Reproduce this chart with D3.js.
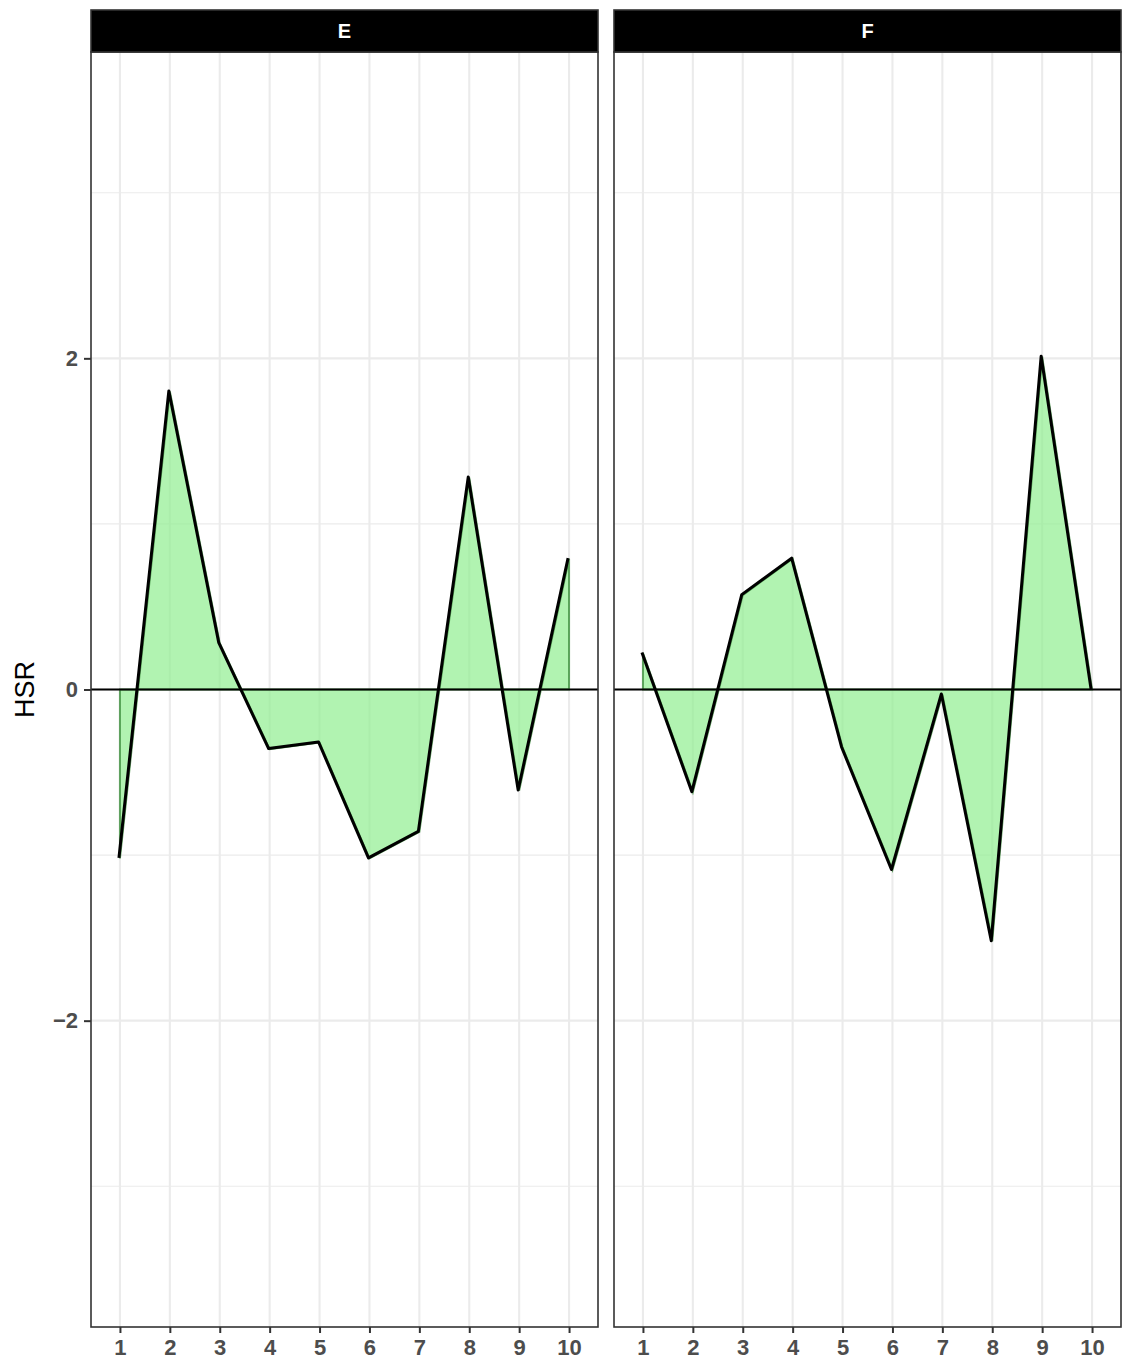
<!DOCTYPE html>
<html>
<head>
<meta charset="utf-8">
<script src="https://cdn.jsdelivr.net/npm/d3@7"></script>
<style>
  body { margin: 0; background: #fff; }
  svg { display: block; font-family: "Liberation Sans", Arial, sans-serif; }
</style>
</head>
<body>
<div id="chart"></div>
<script>
const panels = ["E", "F"];
const xValues = [1, 2, 3, 4, 5, 6, 7, 8, 9, 10];
const hsrE = [-1.02, 1.80, 0.28, -0.36, -0.32, -1.02, -0.86, 1.28, -0.61, 0.79];
const hsrF = [0.22, -0.62, 0.57, 0.79, -0.35, -1.09, -0.03, -1.52, 2.01, 0.0];
const yTicks = [-2, 0, 2];
const yMinor = [-3, -1, 1, 3];

const seriesByPanel = { E: hsrE, F: hsrF };

const width = 1124, height = 1363;
const panelTop = 52, panelBottom = 1327;
const panelLefts = [91, 614], panelW = 507;

const svg = d3.select("#chart").append("svg")
  .attr("width", width).attr("height", height);

const y = d3.scaleLinear().domain([-3.85, 3.85]).range([panelBottom, panelTop]);

// y axis title
svg.append("text")
  .attr("transform", `translate(34,${(panelTop + panelBottom) / 2}) rotate(-90)`)
  .attr("text-anchor", "middle")
  .style("font-size", "27px")
  .attr("fill", "#000")
  .text("HSR");

// add zero crossings so the fill sits between the line and 0
function withCrossings(xs, vs) {
  const out = [];
  for (let i = 0; i < xs.length; i++) {
    out.push([xs[i], vs[i]]);
    if (i < xs.length - 1 && vs[i] * vs[i + 1] < 0) {
      const t = vs[i] / (vs[i] - vs[i + 1]);
      out.push([xs[i] + t * (xs[i + 1] - xs[i]), 0]);
    }
  }
  return out;
}

panels.forEach((name, pi) => {
  const left = panelLefts[pi];
  const x = d3.scaleLinear().domain([0.42, 10.58]).range([left, left + panelW]);
  const g = svg.append("g");

  // grid
  g.selectAll(".minor").data(yMinor).join("line")
    .attr("x1", left).attr("x2", left + panelW)
    .attr("y1", d => y(d)).attr("y2", d => y(d))
    .attr("stroke", "#ebebeb").attr("stroke-width", 1.1);
  g.selectAll(".majory").data(yTicks).join("line")
    .attr("x1", left).attr("x2", left + panelW)
    .attr("y1", d => y(d)).attr("y2", d => y(d))
    .attr("stroke", "#ebebeb").attr("stroke-width", 2.1);
  g.selectAll(".majorx").data(xValues).join("line")
    .attr("x1", d => x(d)).attr("x2", d => x(d))
    .attr("y1", panelTop).attr("y2", panelBottom)
    .attr("stroke", "#ebebeb").attr("stroke-width", 2.1);

  const vals = seriesByPanel[name];
  const pts = withCrossings(xValues, vals);

  const area = d3.area()
    .x(d => x(d[0]))
    .y0(y(0))
    .y1(d => y(d[1]));

  g.append("path")
    .attr("d", area(pts))
    .attr("fill", "#90ee90")
    .attr("fill-opacity", 0.7)
    .attr("stroke", "#3f8f3f")
    .attr("stroke-opacity", 0.8)
    .attr("stroke-width", 2);

  // zero line
  g.append("line")
    .attr("x1", left).attr("x2", left + panelW)
    .attr("y1", y(0)).attr("y2", y(0))
    .attr("stroke", "#000").attr("stroke-width", 2);

  const line = d3.line().x(d => x(d[0])).y(d => y(d[1]));
  g.append("path")
    .attr("d", line(xValues.map((d, i) => [d, vals[i]])))
    .attr("fill", "none")
    .attr("stroke", "#000")
    .attr("stroke-width", 3)
    .attr("stroke-linejoin", "round")
    .attr("transform", "translate(-1,-0.5)");

  // panel frame
  g.append("rect")
    .attr("x", left).attr("y", panelTop)
    .attr("width", panelW).attr("height", panelBottom - panelTop)
    .attr("fill", "none").attr("stroke", "#333").attr("stroke-width", 1.6);

  // strip
  g.append("rect")
    .attr("x", left).attr("y", 10)
    .attr("width", panelW).attr("height", panelTop - 10)
    .attr("fill", "#000").attr("stroke", "#333").attr("stroke-width", 1.6);
  g.append("text")
    .attr("x", left + panelW / 2).attr("y", 31)
    .attr("dy", "0.36em")
    .attr("text-anchor", "middle")
    .style("font-size", "20px").attr("font-weight", "bold")
    .attr("fill", "#fff")
    .text(name);

  // x axis
  const xAxis = d3.axisBottom(x).tickValues(xValues).tickSize(6).tickPadding(6);
  const ax = g.append("g").attr("transform", `translate(0,${panelBottom})`).call(xAxis);
  ax.select(".domain").remove();
  ax.selectAll(".tick line").attr("stroke", "#333").attr("stroke-width", 2);
  ax.selectAll(".tick text")
    .style("font-size", "22px").attr("font-weight", "bold")
    .attr("fill", "#4d4d4d").attr("font-family", "Liberation Sans, Arial, sans-serif");

  if (pi === 0) {
    const yAxis = d3.axisLeft(y).tickValues(yTicks).tickSize(7).tickPadding(6)
      .tickFormat(d => d < 0 ? "\u2212" + Math.abs(d) : d);
    const ay = g.append("g").attr("transform", `translate(${left},0)`).call(yAxis);
    ay.select(".domain").remove();
    ay.selectAll(".tick line").attr("stroke", "#333").attr("stroke-width", 2);
    ay.selectAll(".tick text")
      .style("font-size", "22px").attr("font-weight", "bold")
      .attr("fill", "#4d4d4d").attr("font-family", "Liberation Sans, Arial, sans-serif");
  }
});
</script>
</body>
</html>
